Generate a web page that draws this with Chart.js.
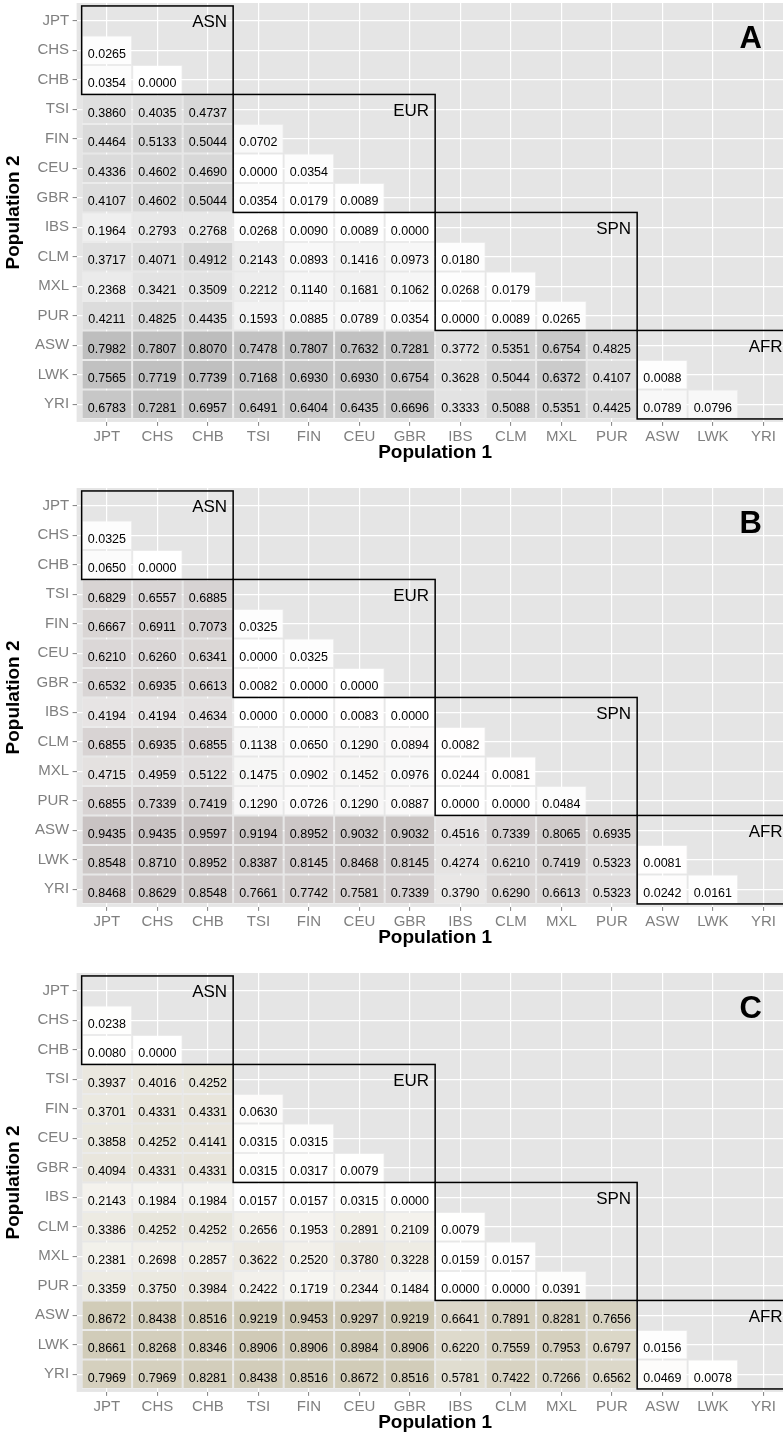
<!DOCTYPE html>
<html><head><meta charset="utf-8">
<script src="https://cdn.jsdelivr.net/npm/chart.js@4.4.1/dist/chart.umd.min.js"></script>
<style>
html,body{margin:0;padding:0;background:#fff;}
body{width:783px;height:1432px;overflow:hidden;position:relative;}
.panel{position:absolute;left:0;width:800px;height:485px;}
canvas{display:block;}
</style></head><body>
<div class="panel" style="top:0px"><canvas id="c0" width="800" height="485"></canvas></div>
<div class="panel" style="top:485px"><canvas id="c1" width="800" height="485"></canvas></div>
<div class="panel" style="top:970px"><canvas id="c2" width="800" height="485"></canvas></div>
<script>
// ---------- data ----------
const populations = ['JPT','CHS','CHB','TSI','FIN','CEU','GBR','IBS','CLM','MXL','PUR','ASW','LWK','YRI'];
const groupNames = ['ASN','EUR','SPN','AFR'];
const groupFirst = [0,3,7,11];
const groupLast  = [2,6,10,13];
const panelLetters = ['A','B','C'];
const xTitle = 'Population 1';
const yTitle = 'Population 2';

// rows start at CHS (row 1); each row lists values for columns JPT.. (row-1)
const valuesA = [
  [0.0265],
  [0.0354, 0.0000],
  [0.3860, 0.4035, 0.4737],
  [0.4464, 0.5133, 0.5044, 0.0702],
  [0.4336, 0.4602, 0.4690, 0.0000, 0.0354],
  [0.4107, 0.4602, 0.5044, 0.0354, 0.0179, 0.0089],
  [0.1964, 0.2793, 0.2768, 0.0268, 0.0090, 0.0089, 0.0000],
  [0.3717, 0.4071, 0.4912, 0.2143, 0.0893, 0.1416, 0.0973, 0.0180],
  [0.2368, 0.3421, 0.3509, 0.2212, 0.1140, 0.1681, 0.1062, 0.0268, 0.0179],
  [0.4211, 0.4825, 0.4435, 0.1593, 0.0885, 0.0789, 0.0354, 0.0000, 0.0089, 0.0265],
  [0.7982, 0.7807, 0.8070, 0.7478, 0.7807, 0.7632, 0.7281, 0.3772, 0.5351, 0.6754, 0.4825],
  [0.7565, 0.7719, 0.7739, 0.7168, 0.6930, 0.6930, 0.6754, 0.3628, 0.5044, 0.6372, 0.4107, 0.0088],
  [0.6783, 0.7281, 0.6957, 0.6491, 0.6404, 0.6435, 0.6696, 0.3333, 0.5088, 0.5351, 0.4425, 0.0789, 0.0796]
];
const valuesB = [
  [0.0325],
  [0.0650, 0.0000],
  [0.6829, 0.6557, 0.6885],
  [0.6667, 0.6911, 0.7073, 0.0325],
  [0.6210, 0.6260, 0.6341, 0.0000, 0.0325],
  [0.6532, 0.6935, 0.6613, 0.0082, 0.0000, 0.0000],
  [0.4194, 0.4194, 0.4634, 0.0000, 0.0000, 0.0083, 0.0000],
  [0.6855, 0.6935, 0.6855, 0.1138, 0.0650, 0.1290, 0.0894, 0.0082],
  [0.4715, 0.4959, 0.5122, 0.1475, 0.0902, 0.1452, 0.0976, 0.0244, 0.0081],
  [0.6855, 0.7339, 0.7419, 0.1290, 0.0726, 0.1290, 0.0887, 0.0000, 0.0000, 0.0484],
  [0.9435, 0.9435, 0.9597, 0.9194, 0.8952, 0.9032, 0.9032, 0.4516, 0.7339, 0.8065, 0.6935],
  [0.8548, 0.8710, 0.8952, 0.8387, 0.8145, 0.8468, 0.8145, 0.4274, 0.6210, 0.7419, 0.5323, 0.0081],
  [0.8468, 0.8629, 0.8548, 0.7661, 0.7742, 0.7581, 0.7339, 0.3790, 0.6290, 0.6613, 0.5323, 0.0242, 0.0161]
];
const valuesC = [
  [0.0238],
  [0.0080, 0.0000],
  [0.3937, 0.4016, 0.4252],
  [0.3701, 0.4331, 0.4331, 0.0630],
  [0.3858, 0.4252, 0.4141, 0.0315, 0.0315],
  [0.4094, 0.4331, 0.4331, 0.0315, 0.0317, 0.0079],
  [0.2143, 0.1984, 0.1984, 0.0157, 0.0157, 0.0315, 0.0000],
  [0.3386, 0.4252, 0.4252, 0.2656, 0.1953, 0.2891, 0.2109, 0.0079],
  [0.2381, 0.2698, 0.2857, 0.3622, 0.2520, 0.3780, 0.3228, 0.0159, 0.0157],
  [0.3359, 0.3750, 0.3984, 0.2422, 0.1719, 0.2344, 0.1484, 0.0000, 0.0000, 0.0391],
  [0.8672, 0.8438, 0.8516, 0.9219, 0.9453, 0.9297, 0.9219, 0.6641, 0.7891, 0.8281, 0.7656],
  [0.8661, 0.8268, 0.8346, 0.8906, 0.8906, 0.8984, 0.8906, 0.6220, 0.7559, 0.7953, 0.6797, 0.0156],
  [0.7969, 0.7969, 0.8281, 0.8438, 0.8516, 0.8672, 0.8516, 0.5781, 0.7422, 0.7266, 0.6562, 0.0469, 0.0078]
];
const panelValues = [valuesA, valuesB, valuesC];

// ---------- styles ----------
const FONT = '"Liberation Sans", Arial, Helvetica, sans-serif';
const lowColor = [255,255,255];
const highColors = [[174,174,174],[198,192,191],[202,196,174]];

function toLin(c){c/=255;return c<=0.04045?c/12.92:Math.pow((c+0.055)/1.055,2.4);}
function toS(l){const c=l<=0.0031308?12.92*l:1.055*Math.pow(l,1/2.4)-0.055;return Math.round(Math.max(0,Math.min(1,c))*255);}
function rgb2lab(rgb){
  const R=toLin(rgb[0]),G=toLin(rgb[1]),B=toLin(rgb[2]);
  const X=(0.4124*R+0.3576*G+0.1805*B)/0.95047, Y=(0.2126*R+0.7152*G+0.0722*B), Z=(0.0193*R+0.1192*G+0.9505*B)/1.08883;
  const f=t=>t>0.008856?Math.cbrt(t):7.787*t+16/116;
  const fx=f(X),fy=f(Y),fz=f(Z);
  return [116*fy-16,500*(fx-fy),200*(fy-fz)];
}
function lab2rgb(lab){
  const fy=(lab[0]+16)/116, fx=fy+lab[1]/500, fz=fy-lab[2]/200;
  const fi=t=>t*t*t>0.008856?t*t*t:(t-16/116)/7.787;
  const X=fi(fx)*0.95047,Y=fi(fy),Z=fi(fz)*1.08883;
  const R=3.2406*X-1.5372*Y-0.4986*Z, G=-0.9689*X+1.8758*Y+0.0415*Z, B=0.0557*X-0.2040*Y+1.0570*Z;
  return [toS(R),toS(G),toS(B)];
}
function fillFor(v, hi){
  const a=rgb2lab(lowColor), b=rgb2lab(hi);
  const c=lab2rgb([a[0]+(b[0]-a[0])*v, a[1]+(b[1]-a[1])*v, a[2]+(b[2]-a[2])*v]);
  return 'rgb('+c.join(',')+')';
}

Chart.defaults.font.family = FONT;

function decorPlugin(pi){
  return {
    id:'decor',
    beforeDraw(chart){
      const {ctx, chartArea:a} = chart;
      ctx.save(); ctx.fillStyle='#E5E5E5';
      ctx.fillRect(a.left,a.top,a.right-a.left,a.bottom-a.top); ctx.restore();
    },
    afterDatasetsDraw(chart){
      const ctx=chart.ctx, xs=chart.scales.x, ys=chart.scales.y;
      ctx.save();
      ctx.fillStyle='#000'; ctx.textBaseline='middle';
      ctx.font='12.5px '+FONT; ctx.textAlign='center';
      chart.data.datasets.forEach((ds, di) => {
        const meta = chart.getDatasetMeta(di);
        meta.data.forEach((el, k) => {
          const c = el.getCenterPoint();
          ctx.fillText(ds.values[k].toFixed(4), c.x, c.y + 4);
        });
      });
      ctx.strokeStyle='#000'; ctx.lineWidth=1.5;
      groupFirst.forEach((g0, gi) => {
        const g1 = groupLast[gi];
        const x0 = xs.getPixelForValue(g0-0.5), x1 = xs.getPixelForValue(g1+0.5);
        const y0 = ys.getPixelForValue(g0-0.5), y1 = ys.getPixelForValue(g1+0.5);
        ctx.strokeRect(x0, y0, x1-x0, y1-y0);
        ctx.font='17px '+FONT; ctx.textAlign='right';
        ctx.fillText(groupNames[gi], x1 - 6, ys.getPixelForValue(g0) + 2);
      });
      ctx.font='bold 31px '+FONT; ctx.textAlign='center';
      ctx.fillText(panelLetters[pi], xs.getPixelForValue(12.75), ys.getPixelForValue(0.65));
      ctx.restore();
    }
  };
}

function buildPanel(pi){
  const rows = panelValues[pi];
  const datasets = rows.map((vals, ri) => {
    const r = ri + 1;
    return {
      label: populations[r],
      values: vals,
      data: vals.map((v, j) => ({x: j, y: [r - 0.5, r + 0.5]})),
      backgroundColor: vals.map(v => fillFor(v, highColors[pi])),
      borderColor: 'rgba(255,255,255,0.25)',
      borderWidth: 1,
      borderSkipped: false,
      inflateAmount: 0,
      grouped: false,
      barPercentage: 1,
      categoryPercentage: 1
    };
  });
  const tickFont = {size: 15, family: FONT};
  const intTicks = s => { s.ticks = populations.map((p, i) => ({value: i})); };
  new Chart(document.getElementById('c'+pi), {
    type: 'bar',
    data: {datasets},
    options: {
      responsive: false, animation: false, devicePixelRatio: 1,
      layout: {padding: {top: 3, right: 6.3, bottom: 20.6, left: 0}},
      plugins: {legend: {display: false}, tooltip: {enabled: false}},
      scales: {
        x: {
          type: 'linear', min: -0.6, max: 13.6, offset: false,
          afterBuildTicks: intTicks,
          afterFit: s => { s.height = 42.5; s.paddingLeft = 0; s.paddingRight = 0; },
          grid: {offset: false, color: '#FFFFFF', lineWidth: 1.2, tickColor: '#7F7F7F', tickLength: 4, tickWidth: 1},
          border: {display: false},
          ticks: {autoSkip: false, maxRotation: 0, padding: 2, color: '#7F7F7F', font: tickFont,
                  callback: v => populations[v]},
          title: {display: true, text: xTitle, color: '#000', font: {size: 19, weight: 'bold', family: FONT}, padding: {top: 0, bottom: 0}}
        },
        y: {
          type: 'linear', min: -0.6, max: 13.6, reverse: true, offset: false,
          afterBuildTicks: intTicks,
          afterFit: s => { s.width = 76.6; s.paddingTop = 0; s.paddingBottom = 0; },
          grid: {offset: false, color: '#FFFFFF', lineWidth: 1.2, tickColor: '#7F7F7F', tickLength: 4, tickWidth: 1},
          border: {display: false},
          ticks: {autoSkip: false, padding: 3.5, color: '#7F7F7F', font: tickFont,
                  callback: v => populations[v]},
          title: {display: true, text: yTitle, color: '#000', font: {size: 19, weight: 'bold', family: FONT}, padding: {top: 2.6, bottom: 0}}
        }
      }
    },
    plugins: [decorPlugin(pi)]
  });
}
[0,1,2].forEach(buildPanel);
</script>
</body></html>
